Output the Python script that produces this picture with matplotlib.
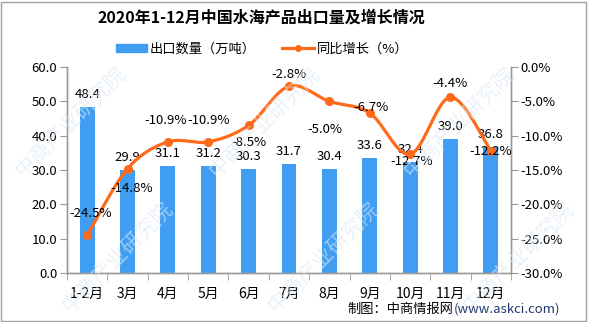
import numpy as np
import matplotlib
matplotlib.use("Agg")
import matplotlib.pyplot as plt
from matplotlib.patches import Rectangle
from matplotlib.lines import Line2D
from matplotlib.patches import Patch

plt.rcParams['font.family'] = ['Noto Sans CJK SC', 'DejaVu Sans']

months = ["1-2月", "3月", "4月", "5月", "6月", "7月", "8月", "9月", "10月", "11月", "12月"]
export_vol = [48.4, 29.9, 31.1, 31.2, 30.3, 31.7, 30.4, 33.6, 32.4, 39.0, 36.8]
yoy_growth = [-24.5, -14.8, -10.9, -10.9, -8.5, -2.8, -5.0, -6.7, -12.7, -4.4, -12.2]

BAR_C = "#409EF2"
LINE_C = "#FF6A1A"
AX_C = "#9A9A9A"

fig = plt.figure(figsize=(5.89, 3.22), dpi=100)
ax = fig.add_axes([0.1138, 0.1522, 0.8676 - 0.1138, 0.7919 - 0.1522])
ax2 = ax.twinx()

x = np.arange(len(months))
bars = ax.bar(x, export_vol, width=0.37, color=BAR_C, zorder=2)
ax.set_xlim(-0.5, len(months) - 0.5)
ax.set_ylim(0, 60)
ax.set_yticks(np.arange(0, 61, 10))
ax.set_yticklabels([f"{v:.1f}" for v in np.arange(0, 61, 10)], fontsize=9.5)
ax.set_xticks(x)
ax.set_xticklabels(months, fontsize=10)
ax.set_xticks(np.arange(-0.5, len(months)), minor=True)
ax.tick_params(axis="x", which="major", length=0, pad=10)
ax.tick_params(axis="x", which="minor", length=5, color=AX_C)
ax.tick_params(axis="y", length=5, color=AX_C, pad=2)

for b, v in zip(bars, export_vol):
    ax.annotate(f"{v:.1f}", (b.get_x() + b.get_width() / 2, v),
                textcoords="offset pixels", xytext=(0, 6),
                ha="center", va="bottom", fontsize=9.5)

ax2.set_ylim(-30, 0)
ax2.set_yticks(np.arange(-30, 1, 5))
ax2.set_yticklabels([f"{v:.1f}%" for v in np.arange(-30, 1, 5)], fontsize=9.5)
ax2.tick_params(axis="y", length=5, color=AX_C, pad=2)

for a in (ax, ax2):
    a.spines["top"].set_visible(False)
    for s in ("left", "right", "bottom"):
        a.spines[s].set_color(AX_C)
        a.spines[s].set_linewidth(1.0)

# smooth curve through the growth points (Catmull-Rom in pixel space)
fig.canvas.draw()
pts = ax2.transData.transform(np.column_stack([x, yoy_growth]))
curve = []
n = len(pts)
for i in range(n - 1):
    p0 = pts[max(i - 1, 0)]
    p1 = pts[i]
    p2 = pts[i + 1]
    p3 = pts[min(i + 2, n - 1)]
    c1 = p1 + (p2 - p0) / 6
    c2 = p2 - (p3 - p1) / 6
    t = np.linspace(0, 1, 30)[:, None]
    seg = ((1 - t) ** 3) * p1 + 3 * ((1 - t) ** 2) * t * c1 + 3 * (1 - t) * t ** 2 * c2 + t ** 3 * p2
    curve.append(seg)
curve = ax2.transData.inverted().transform(np.vstack(curve))
ax2.plot(curve[:, 0], curve[:, 1], color=LINE_C, lw=2.3, zorder=3, solid_capstyle="round")
ax2.plot(x, yoy_growth, "o", color=LINE_C, ms=5.5, zorder=4)

growth_offsets = [(3, 22), (4, -20), (-2, 21), (0, 21), (0, -17), (0, 12),
                  (-4, -28), (1, 6), (2, -7), (0, 14), (0, -1)]
for xi, v, off in zip(x, yoy_growth, growth_offsets):
    ax2.annotate(f"{v:.1f}%", (xi, v), textcoords="offset pixels", xytext=off,
                 ha="center", va="center", fontsize=9.5, zorder=5)

# faint watermarks
for wx, wy in [(0.12, 0.62), (0.45, 0.62), (0.78, 0.62), (0.2, 0.2), (0.55, 0.2), (0.88, 0.2)]:
    fig.text(wx, wy, "中商产业研究院", rotation=45, fontsize=15, color="#DCE8F3",
             ha="center", va="center", alpha=0.6, zorder=0)

fig.text(0.443, 0.944, "2020年1-12月中国水海产品出口量及增长情况", ha="center", va="center",
         fontsize=11.5, fontweight="bold")

handles = [Patch(color=BAR_C), Line2D([0], [0], color=LINE_C, lw=2.3, marker="o", ms=4)]
fig.legend(handles, ["出口数量（万吨）", "同比增长（%）"], loc="center", bbox_to_anchor=(0.445, 0.848),
           ncol=2, frameon=False, fontsize=9.5, handlelength=2.4, handleheight=0.6,
           columnspacing=2.0, handletextpad=0.2)

# source line: site name followed by the url in dark blue
url = fig.text(0.951, 0.04, "(www.askci.com)", ha="right", va="center", fontsize=9.5, color="#1F3A6E")
fig.canvas.draw()
url_left = url.get_window_extent().x0 / fig.bbox.width
fig.text(url_left, 0.04, "制图：中商情报网", ha="right", va="center", fontsize=9.5)

fig.add_artist(Rectangle((0.002, 0.004), 0.993, 0.99, transform=fig.transFigure,
                         fill=False, edgecolor="#A0A0A0", lw=1.0))

fig.savefig("out.png", dpi=100)
